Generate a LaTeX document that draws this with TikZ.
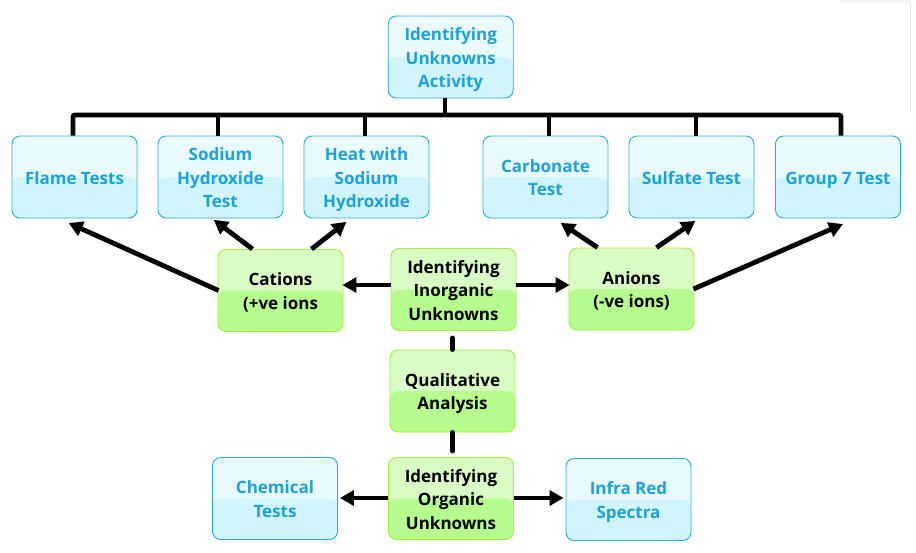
\documentclass[tikz,border=0pt]{standalone}
\usepackage{fontspec}
\setmainfont{Open Sans}
\usetikzlibrary{arrows.meta}
\definecolor{bluetop}{HTML}{EAFBFF}
\definecolor{bluebot}{HTML}{D2F4FC}
\definecolor{blueline}{HTML}{2AAADC}
\definecolor{bluetext}{HTML}{1CA2D8}
\definecolor{greentop}{HTML}{D8FCC4}
\definecolor{greenbot}{HTML}{B6FC8E}
\definecolor{greenline}{HTML}{A2EE3C}
\newcommand\lowtxt[1]{\raisebox{-2.5pt}[\height][\depth]{\begin{tabular}{@{}c@{}}#1\end{tabular}}}
\tikzset{
  basebox/.style={rounded corners=8pt, minimum width=125pt, minimum height=82pt,
    inner sep=0pt, line width=0.9pt,
    font=\fontsize{17}{23.5}\selectfont\bfseries},
  bluebox/.style={basebox, draw=blueline, fill=bluetop, text=bluetext,
    path picture={\fill[bluebot] (path picture bounding box.west) rectangle (path picture bounding box.south east);}},
  greenbox/.style={basebox, draw=greenline, fill=greentop, text=black,
    path picture={\fill[greenbot] (path picture bounding box.west) rectangle (path picture bounding box.south east);}},
  conn/.style={line width=4.8pt, draw=black},
  arr/.style={conn, -{Triangle[length=14pt,width=15pt]}, shorten >=-1pt}
}
\begin{document}
\begin{tikzpicture}[x=1pt,y=-1pt]
\useasboundingbox[fill=white] (0,0) rectangle (916,552);
\draw[gray!20, line width=1pt] (910.5,0) -- (910.5,112);
\fill[gray!8] (840,0) rectangle (911,2.5);

\node[bluebox] (act) at (450.7,57) {\lowtxt{Identifying\\Unknowns\\Activity}};

\node[bluebox] (flame)  at (74.5,177)  {\lowtxt{Flame Tests}};
\node[bluebox] (sodium) at (220.5,177) {\lowtxt{Sodium\\Hydroxide\\Test}};
\node[bluebox] (heat)   at (366.5,177) {\lowtxt{Heat with\\Sodium\\Hydroxide}};
\node[bluebox] (carb)   at (545.5,177) {\lowtxt{Carbonate\\Test}};
\node[bluebox] (sulf)   at (691.5,177) {\lowtxt{Sulfate Test}};
\node[bluebox] (gseven) at (838,177)   {\lowtxt{Group 7 Test}};

\node[greenbox] (cat)   at (280.5,290.5) {\lowtxt{Cations\\(+ve ions}};
\node[greenbox] (inorg) at (453.5,289.5) {\lowtxt{Identifying\\Inorganic\\Unknowns}};
\node[greenbox] (anion) at (631.5,289)   {\lowtxt{Anions\\(-ve ions)}};

\node[greenbox] (qual) at (452.5,391) {\lowtxt{Qualitative\\Analysis}};

\node[bluebox]  (chem)  at (275,498.5)   {\lowtxt{Chemical\\Tests}};
\node[greenbox] (org)   at (451,498.5)   {\lowtxt{Identifying\\Organic\\Unknowns}};
\node[bluebox]  (infra) at (628.5,499.5) {\lowtxt{Infra Red\\Spectra}};

% bus
\coordinate (busy) at (0,115);
\draw[conn, rounded corners=2pt] ([xshift=-1.5pt]flame.north) -- ([xshift=-1.5pt]flame.north |- busy)
  -- ([xshift=3pt]gseven.north |- busy) -- ([xshift=3pt]gseven.north);
\draw[conn] ([xshift=-5.7pt]act.south) -- ([xshift=-5.7pt]act.south |- busy);
\draw[conn] ([xshift=-2.5pt]sodium.north) -- ([xshift=-2.5pt]sodium.north |- busy);
\draw[conn] ([xshift=-1.5pt]heat.north) -- ([xshift=-1.5pt]heat.north |- busy);
\draw[conn] ([xshift=3.5pt]carb.north) -- ([xshift=3.5pt]carb.north |- busy);
\draw[conn] ([xshift=4.5pt]sulf.north) -- ([xshift=4.5pt]sulf.north |- busy);

% vertical spine
\draw[conn, line cap=round] ([xshift=-1pt,yshift=-7pt]inorg.south) -- ([xshift=-0pt]qual.north);
\draw[conn, line cap=round] (qual.south) -- ([xshift=1.5pt,yshift=6pt]org.north);

% horizontal arrows
\draw[arr] (inorg.west |- 0,285) -- (cat.east |- 0,285);
\draw[arr] (inorg.east |- 0,285) -- (anion.west |- 0,285);
\draw[arr] (org.west |- 0,498) -- ([xshift=3pt]chem.east |- 0,498);
\draw[arr] (org.east |- 0,498) -- ([xshift=-3pt]infra.west |- 0,498);

% diagonal arrows
\draw[arr] ([xshift=1pt]cat.west) -- ([xshift=58pt,yshift=-5pt]flame.south west);
\draw[arr] ([xshift=35pt]cat.north west) -- ([xshift=57pt,yshift=-2pt]sodium.south west);
\draw[arr] ([xshift=94pt]cat.north west) -- ([xshift=42pt,yshift=-4pt]heat.south west);
\draw[arr] ([xshift=29pt]anion.north west) -- ([xshift=79pt,yshift=-5pt]carb.south west);
\draw[arr] ([xshift=88pt]anion.north west) -- ([xshift=66pt,yshift=-3pt]sulf.south west);
\draw[arr] ([xshift=-1pt]anion.east) -- ([xshift=67pt,yshift=-6pt]gseven.south west);
\end{tikzpicture}
\end{document}
